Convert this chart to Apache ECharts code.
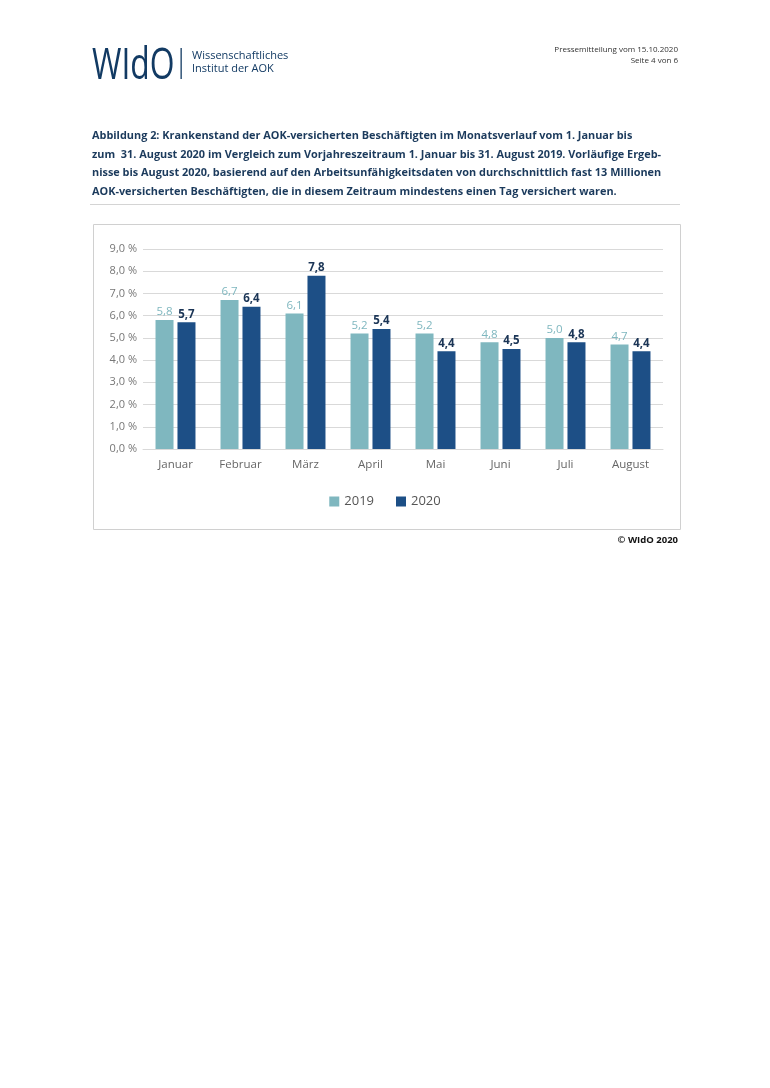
<!DOCTYPE html>
<html><head><meta charset="utf-8">
<script src="https://cdn.jsdelivr.net/npm/echarts@6/dist/echarts.min.js"></script>
<style>html,body{margin:0;padding:0;background:#fff}#c{width:770px;height:1088px}</style>
</head><body><div id="c"></div>
<script>
const months = ['Januar','Februar','März','April','Mai','Juni','Juli','August'];
const values2019 = [5.8, 6.7, 6.1, 5.2, 5.2, 4.8, 5.0, 4.7];
const values2020 = [5.7, 6.4, 7.8, 5.4, 4.4, 4.5, 4.8, 4.4];
const seriesNames = ['2019', '2020'];
const titleLines = [
  'Abbildung 2: Krankenstand der AOK-versicherten Beschäftigten im Monatsverlauf vom 1. Januar bis',
  'zum  31. August 2020 im Vergleich zum Vorjahreszeitraum 1. Januar bis 31. August 2019. Vorläufige Ergeb-',
  'nisse bis August 2020, basierend auf den Arbeitsunfähigkeitsdaten von durchschnittlich fast 13 Millionen',
  'AOK-versicherten Beschäftigten, die in diesem Zeitraum mindestens einen Tag versichert waren.'
];
const c1 = '#7fb7bf', c2 = '#1d4f86', navy = '#1b3a5c';
const font = 'Open Sans, Noto Sans, sans-serif';
const chart = echarts.init(document.getElementById('c'));
const graphics = [
  {type:'text', x:92, y:45, scaleX:0.74, style:{text:'WIdO', font:'normal 43px "Open Sans", sans-serif', fill:'#123a63'}},
  {type:'rect', shape:{x:180.5, y:48, width:1.3, height:31}, style:{fill:'#123a63'}},
  {type:'text', x:192, y:49, style:{text:'Wissenschaftliches\nInstitut der AOK', font:'11px '+font, fill:'#123a63', lineHeight:13}},
  {type:'text', x:678, y:46, style:{text:'Pressemitteilung vom 15.10.2020', font:'8px '+font, fill:'#333', align:'right'}},
  {type:'text', x:678, y:57, style:{text:'Seite 4 von 6', font:'8px '+font, fill:'#333', align:'right'}},
  {type:'text', x:92, y:127, style:{text:titleLines.join('\n'), font:'bold 10.9px '+font, fill:navy, lineHeight:18.5}},
  {type:'rect', shape:{x:90, y:204, width:590, height:1}, style:{fill:'#d4d4d4'}},
  {type:'rect', shape:{x:93.5, y:224.5, width:587, height:305}, style:{fill:'none', stroke:'#d0d0d0', lineWidth:1}},
  {type:'text', x:678, y:535, style:{text:'© WIdO 2020', font:'bold 9.5px '+font, fill:'#111', align:'right'}}
];
chart.setOption({
  animation:false,
  textStyle:{fontFamily:font},
  graphic: graphics,
  legend:{
    data:seriesNames, top:490, left:'center', itemWidth:10, itemHeight:10, itemGap:22,
    icon:'rect', textStyle:{fontSize:13, color:'#555'}
  },
  grid:{left:143, top:249, width:520, height:200, containLabel:false},
  xAxis:{
    type:'category', data:months,
    axisLine:{lineStyle:{color:'#d9d9d9'}}, axisTick:{show:false},
    axisLabel:{color:'#666', fontSize:11.5, margin:10}
  },
  yAxis:{
    type:'value', min:0, max:9, interval:1,
    axisLine:{show:false}, axisTick:{show:false},
    splitLine:{lineStyle:{color:'#d9d9d9'}},
    axisLabel:{color:'#777', fontSize:11, margin:6,
      formatter:v=>v.toFixed(1).replace('.', ',')+' %'}
  },
  series:[
    {name:seriesNames[0], type:'bar', data:values2019, barWidth:18, barGap:'22%',
     itemStyle:{color:c1},
     label:{show:true, position:'top', distance:2, color:c1, fontSize:11.5,
       formatter:p=>p.value.toFixed(1).replace('.', ',')}},
    {name:seriesNames[1], type:'bar', data:values2020, barWidth:18,
     itemStyle:{color:c2},
     label:{show:true, position:'top', distance:2, color:'#1b3556', fontSize:11.5, fontWeight:'bold',
       formatter:p=>p.value.toFixed(1).replace('.', ',')}}
  ]
});
</script></body></html>
